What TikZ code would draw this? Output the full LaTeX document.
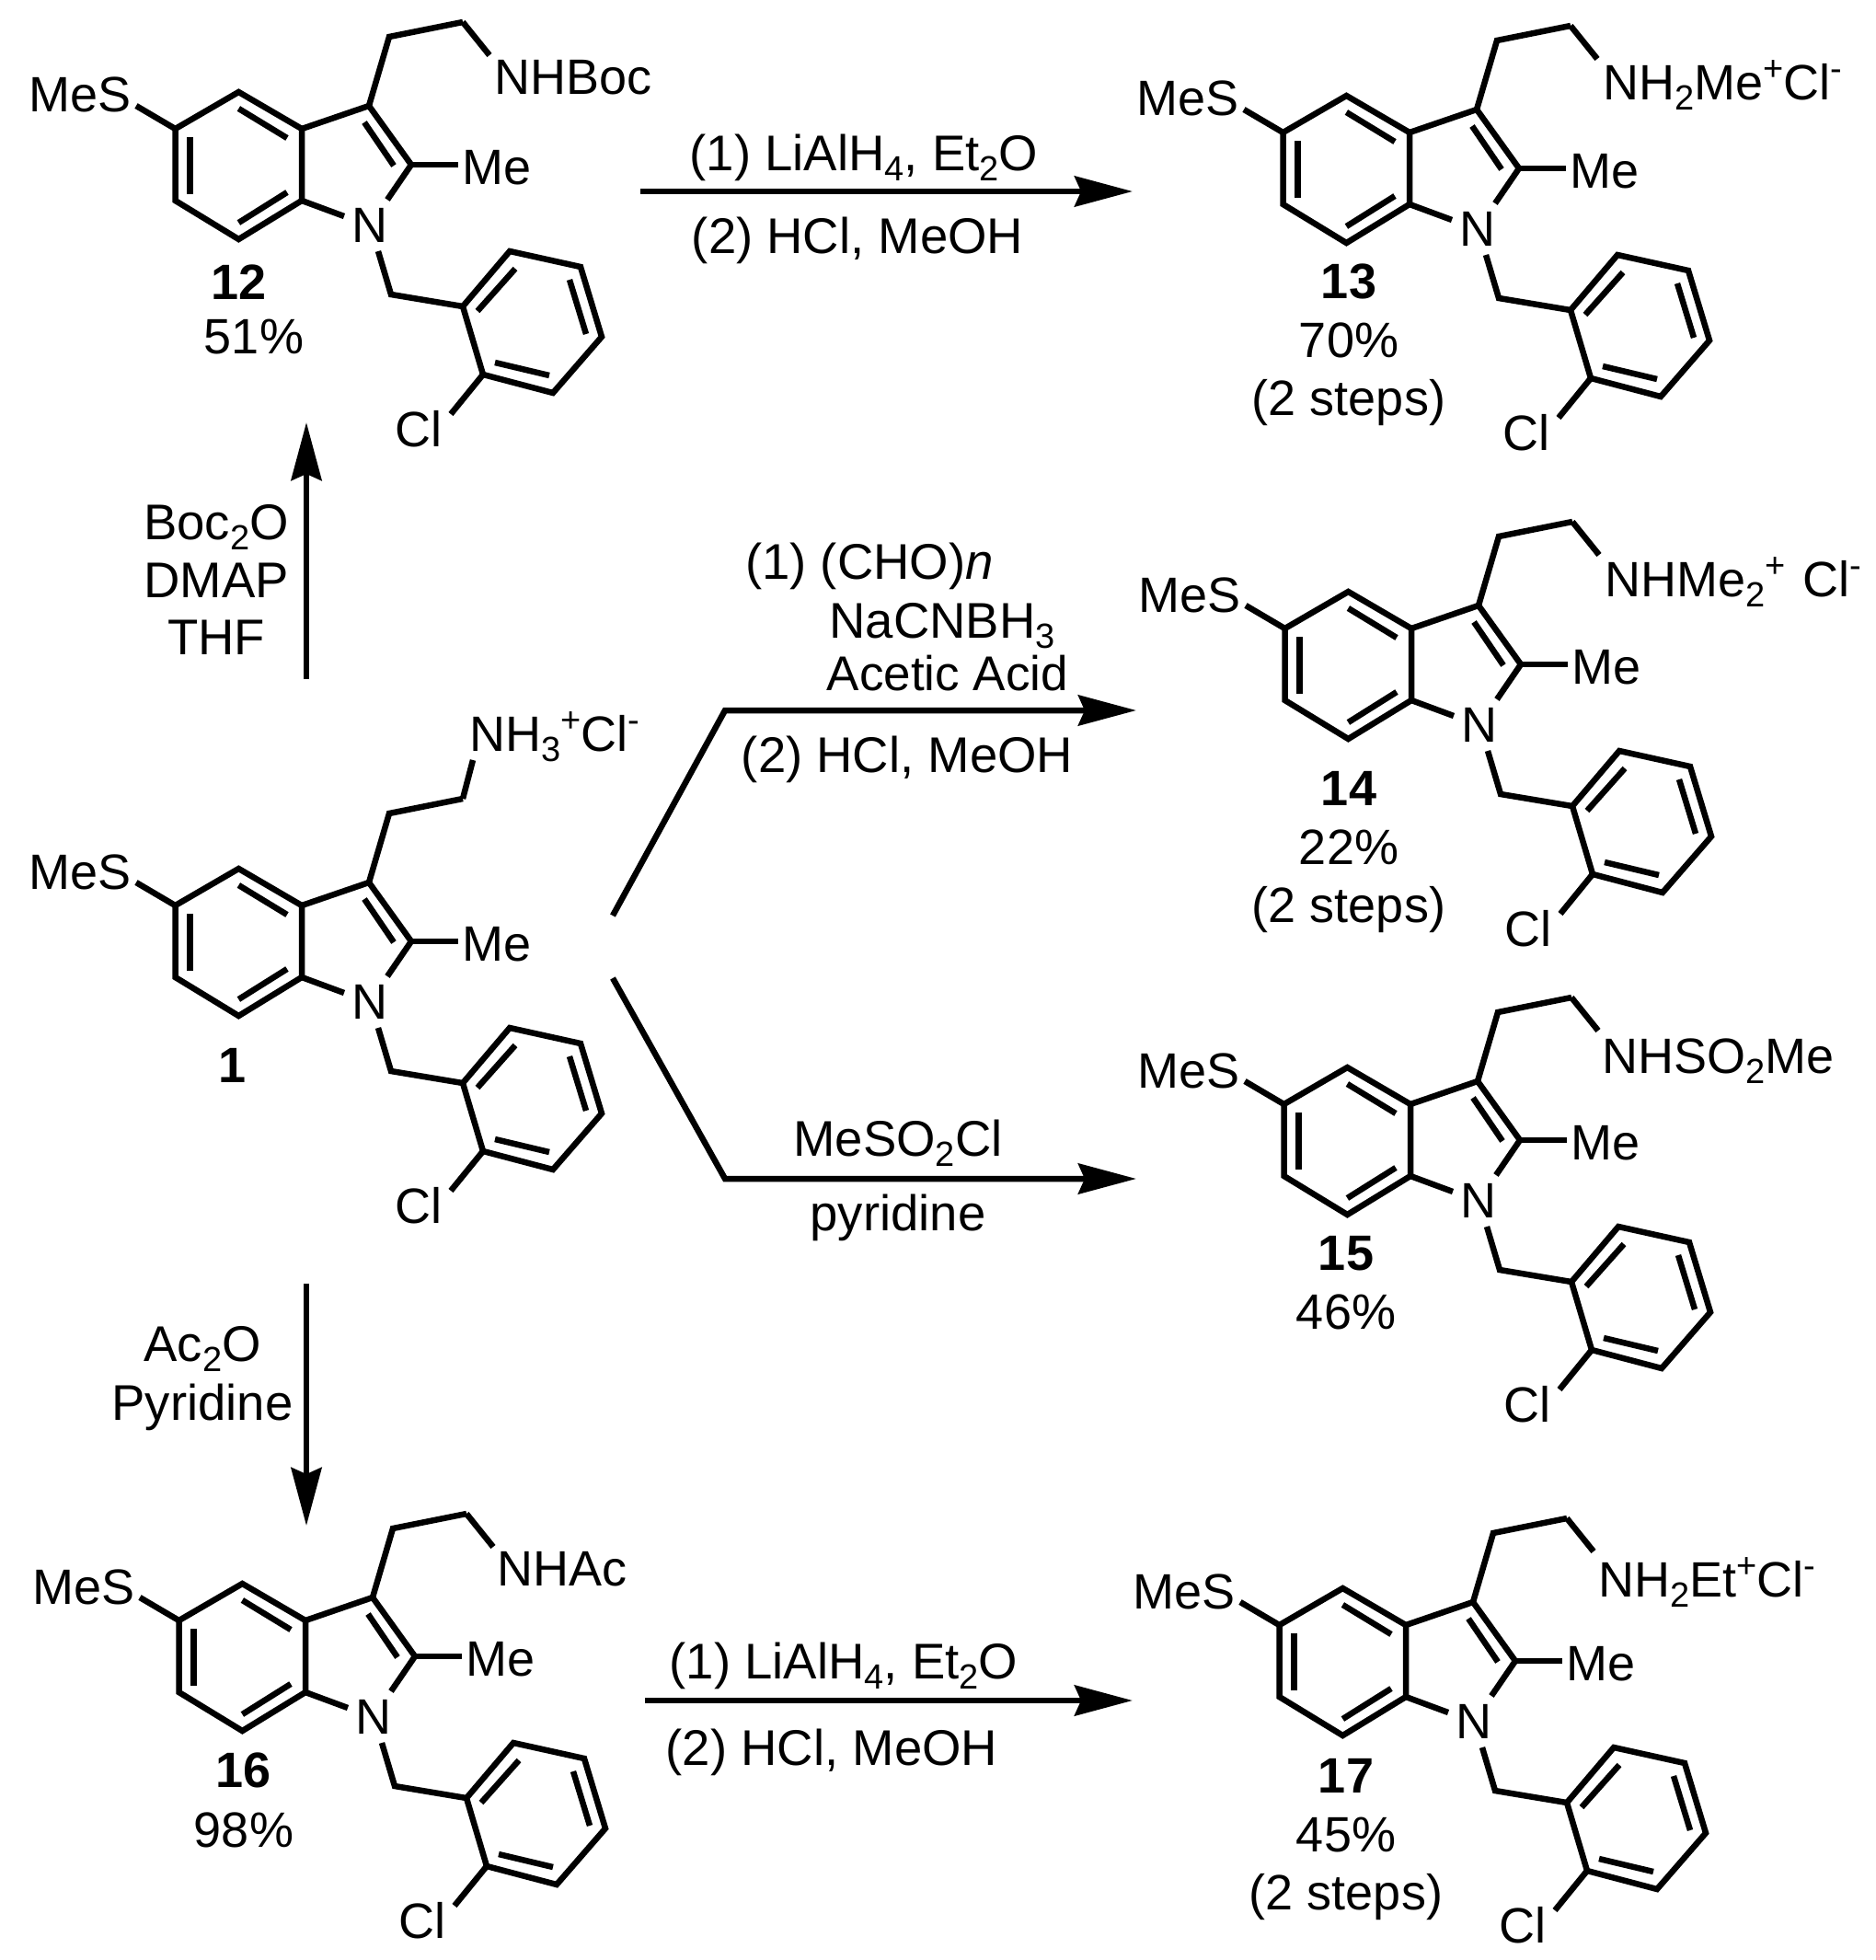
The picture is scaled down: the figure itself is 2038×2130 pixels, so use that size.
\documentclass[tikz,border=0pt]{standalone}
\usepackage{fontspec}
\setmainfont{Liberation Sans}
\usetikzlibrary{arrows.meta}
\newcommand{\dn}[1]{\raisebox{-11pt}{\fontsize{38}{38}\selectfont #1}}
\newcommand{\up}[1]{\raisebox{21pt}{\fontsize{38}{38}\selectfont #1}}
\tikzset{
  bond/.style={line width=6.5pt, line join=miter},
  rxn/.style={line width=6.5pt, line join=miter, -{Stealth[length=63pt,width=33pt,inset=7pt]}},
  lbl/.style={font=\fontsize{54}{60}\selectfont, inner sep=0pt, anchor=base},
  num/.style={lbl, font=\fontsize{54}{60}\bfseries\selectfont},
  rgt/.style={font=\fontsize{54.5}{60}\selectfont, inner sep=0pt, anchor=base},
}
\newcommand{\indole}[3]{%
  \begin{scope}[shift={(#2,#3)}]
    \coordinate (#1c5) at (190.5,140);
    \coordinate (#1c4) at (259.4,100);
    \coordinate (#1c3a) at (328,140);
    \coordinate (#1c7a) at (328,218);
    \coordinate (#1c7) at (259.4,260);
    \coordinate (#1c6) at (190.5,218);
    \coordinate (#1c3) at (401,115);
    \coordinate (#1c2) at (447,179);
    \coordinate (#1ca) at (423,40);
    \coordinate (#1cb) at (503,24);
    \coordinate (#1cc) at (425,320);
    \coordinate (#1r1) at (503,333);
    \coordinate (#1r2) at (525,407);
    \coordinate (#1r3) at (601,427);
    \coordinate (#1r4) at (654,366);
    \coordinate (#1r5) at (631,290);
    \coordinate (#1r6) at (554,273);
    \node[lbl] (#1mes) at (87,122) {MeS};
    \node[lbl] (#1me) at (540,200) {Me};
    \node[lbl] (#1n) at (402,263) {N};
    \node[lbl] (#1cl) at (455,485) {Cl};
    \coordinate (#1bs) at (148,115);
    \coordinate (#1bm) at (498,179);
    \coordinate (#1bn1) at (374,235);
    \coordinate (#1bn2) at (421,217);
    \coordinate (#1bn3) at (411,273);
    \coordinate (#1bc) at (490,450);
    \draw[bond] (#1c5) -- (#1c4) -- (#1c3a) -- (#1c7a) -- (#1c7) -- (#1c6) -- cycle;
    \draw[bond] (#1c3a) -- (#1c3) -- (#1c2) -- (#1bn2);
    \draw[bond] (#1c7a) -- (#1bn1);
    \draw[bond] (#1c2) -- (#1bm);
    \draw[bond] (#1bs) -- (#1c5);
    \draw[bond] (#1c3) -- (#1ca) -- (#1cb);
    \draw[bond] (#1bn3) -- (#1cc) -- (#1r1);
    \draw[bond] (#1r1) -- (#1r2) -- (#1r3) -- (#1r4) -- (#1r5) -- (#1r6) -- cycle;
    \draw[bond] (#1r2) -- (#1bc);
    \coordinate (#1d1) at (259.4,118);
    \coordinate (#1d2) at (312,150);
    \coordinate (#1d3) at (206.6,149);
    \coordinate (#1d4) at (206.6,211);
    \coordinate (#1d5) at (259.4,242);
    \coordinate (#1d6) at (312,209);
    \coordinate (#1d7) at (396,133);
    \coordinate (#1d8) at (428,180);
    \coordinate (#1d9) at (519,338);
    \coordinate (#1d10) at (560,292);
    \coordinate (#1d11) at (619,304);
    \coordinate (#1d12) at (637,363);
    \coordinate (#1d13) at (538,394);
    \coordinate (#1d14) at (597,408);
    \draw[bond] (#1d1) -- (#1d2);
    \draw[bond] (#1d3) -- (#1d4);
    \draw[bond] (#1d5) -- (#1d6);
    \draw[bond] (#1d7) -- (#1d8);
    \draw[bond] (#1d9) -- (#1d10);
    \draw[bond] (#1d11) -- (#1d12);
    \draw[bond] (#1d13) -- (#1d14);
  \end{scope}}
\begin{document}
\begin{tikzpicture}[x=1pt,y=-1pt]
  \useasboundingbox (0,0) rectangle (2038,2130);
  \indole{m12}{0}{0}
  \indole{m1}{0}{844}
  \indole{m13}{1204}{4}
  \indole{m14}{1206}{543}
  \indole{m15}{1205}{1060}
  \indole{m16}{4}{1621}
  \indole{m17}{1200}{1626}

  \coordinate (e12) at (532,60);
  \coordinate (e1) at (514,826);
  \coordinate (e13) at (1736,64);
  \coordinate (e14) at (1738,603);
  \coordinate (e15) at (1737,1120);
  \coordinate (e16) at (536,1681);
  \coordinate (e17) at (1732,1686);
  \draw[bond] (m12cb) -- (e12);
  \draw[bond] (m1cb) -- (e1);
  \draw[bond] (m13cb) -- (e13);
  \draw[bond] (m14cb) -- (e14);
  \draw[bond] (m15cb) -- (e15);
  \draw[bond] (m16cb) -- (e16);
  \draw[bond] (m17cb) -- (e17);
  \node[lbl,anchor=base west] (a12) at (537,103) {NHBoc};
  \node[lbl,anchor=base west] (a1) at (510,816) {NH\dn{3}\up{+}Cl\up{-}};
  \node[lbl,anchor=base west] (a13) at (1742,109) {NH\dn{2}Me\up{+}Cl\up{-}};
  \node[lbl,anchor=base west] (a14) at (1744,648) {NHMe\dn{2}\up{+}\hspace{4pt} Cl\up{-}};
  \node[lbl,anchor=base west] (a15) at (1741,1166) {NHSO\dn{2}Me};
  \node[lbl,anchor=base west] (a16) at (540,1723) {NHAc};
  \node[lbl,anchor=base west] (a17) at (1737,1735) {NH\dn{2}Et\up{+}Cl\up{-}};

  \node[num] (n12) at (260,325) {12};
  \node[lbl] (y12) at (276,384) {51\%};
  \node[num] (n13) at (1466,324) {13};
  \node[lbl] (y13) at (1466,388) {70\%};
  \node[lbl] (s13) at (1466,451) {(2 steps)};
  \node[num] (n14) at (1466,875) {14};
  \node[lbl] (y14) at (1466,939) {22\%};
  \node[lbl] (s14) at (1466,1002) {(2 steps)};
  \node[num] (n1) at (253,1176) {1};
  \node[num] (n15) at (1463,1380) {15};
  \node[lbl] (y15) at (1463,1444) {46\%};
  \node[num] (n16) at (265,1942) {16};
  \node[lbl] (y16) at (265,2007) {98\%};
  \node[num] (n17) at (1463,1948) {17};
  \node[lbl] (y17) at (1463,2012) {45\%};
  \node[lbl] (s17) at (1463,2075) {(2 steps)};

  \coordinate (p1) at (696,208);
  \coordinate (p2) at (1231,208);
  \coordinate (p3) at (333,738);
  \coordinate (p4) at (333,459);
  \coordinate (p5) at (333,1395);
  \coordinate (p6) at (333,1658);
  \coordinate (p7) at (666,995);
  \coordinate (p8) at (788,772);
  \coordinate (p9) at (1235,772);
  \coordinate (p10) at (666,1063);
  \coordinate (p11) at (788,1281);
  \coordinate (p12) at (1235,1281);
  \coordinate (p13) at (701,1848);
  \coordinate (p14) at (1231,1848);
  \draw[rxn] (p1) -- (p2);
  \draw[rxn] (p3) -- (p4);
  \draw[rxn] (p5) -- (p6);
  \draw[rxn] (p7) -- (p8) -- (p9);
  \draw[rxn] (p10) -- (p11) -- (p12);
  \draw[rxn] (p13) -- (p14);

  \node[rgt] (t1) at (939,185) {(1) LiAlH\dn{4}, Et\dn{2}O};
  \node[rgt] (t2) at (932,275) {(2) HCl, MeOH};
  \node[rgt] (t3) at (235,586) {Boc\dn{2}O};
  \node[rgt] (t4) at (235,649) {DMAP};
  \node[rgt] (t5) at (235,711) {THF};
  \node[rgt] (t6) at (945,629) {(1) (CHO)\textit{n}};
  \node[rgt] (t7) at (1024,693) {NaCNBH\dn{3}};
  \node[rgt,font=\fontsize{53}{60}\selectfont] (t8) at (1030,750) {Acetic Acid};
  \node[rgt] (t9) at (986,839) {(2) HCl, MeOH};
  \node[rgt] (t10) at (976,1256) {MeSO\dn{2}Cl};
  \node[rgt] (t11) at (976,1337) {pyridine};
  \node[rgt] (t12) at (220,1479) {Ac\dn{2}O};
  \node[rgt] (t13) at (220,1543) {Pyridine};
  \node[rgt] (t14) at (917,1824) {(1) LiAlH\dn{4}, Et\dn{2}O};
  \node[rgt] (t15) at (904,1918) {(2) HCl, MeOH};
\end{tikzpicture}
\end{document}
